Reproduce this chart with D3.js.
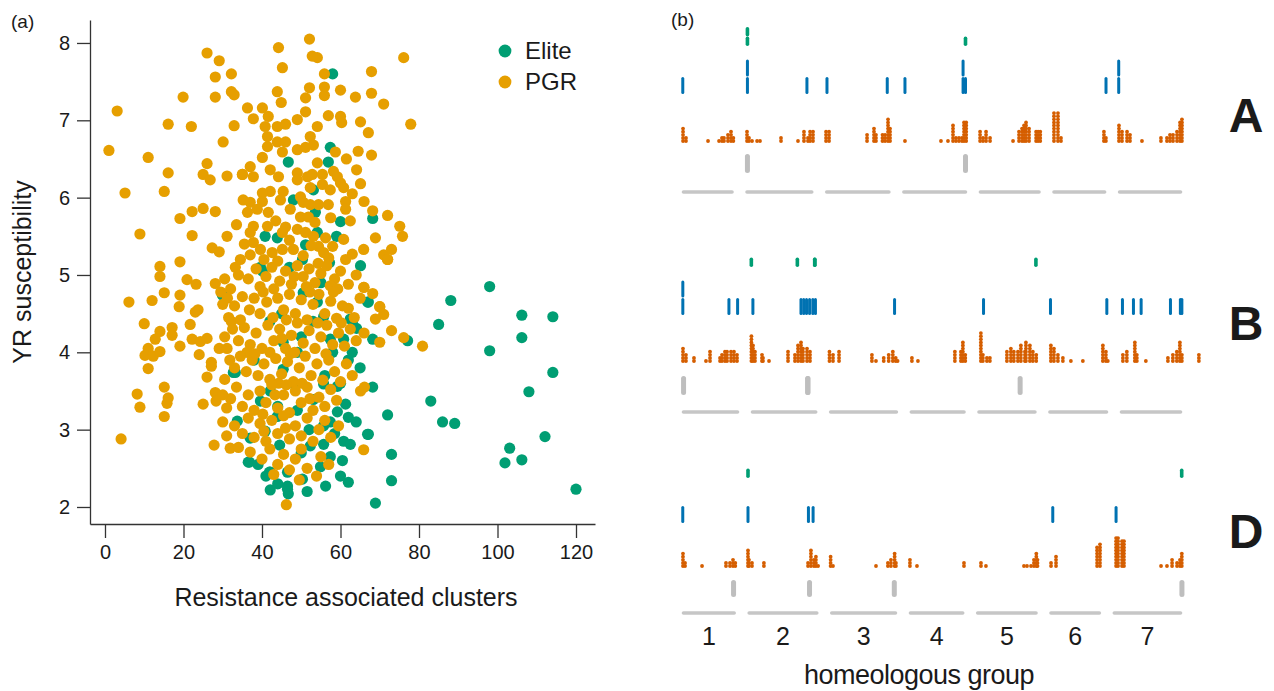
<!DOCTYPE html>
<html>
<head>
<meta charset="utf-8">
<script src="https://cdn.jsdelivr.net/npm/d3@7"></script>
<style>
  body { margin: 0; background: #fff; }
  text { font-family: "Liberation Sans", Arial, Helvetica, sans-serif; fill: #1a1a1a; }
</style>
</head>
<body>
<div class="chart"></div>
<script>
// ---------- panel (a) data: [resistance clusters, YR susceptibility] ----------
const elitePoints = [
  [98,4.85],[88.1,4.67],[106.2,4.48],[114.1,4.46],[85,4.36],[106.2,4.19],[98,4.02],[114.1,3.74],
  [108,3.49],[83,3.37],[72,3.19],[86,3.1],[89.1,3.08],[112.1,2.91],[67.1,2.94],[103.1,2.76],
  [73,2.68],[101.9,2.57],[106.2,2.61],[73,2.34],[120,2.23],[68.9,2.05],[68.2,3.55],[67.1,4.65],
  [65.1,5.12],[68.2,4.17],[77.1,4.15],[68.2,5.73],[58,7.6],[57.4,6.65],[56.9,6.46],[46.7,6.46],
  [53.1,6.1],[48,5.97],[53.6,5.81],[60,5.69],[40.8,5.5],[43.9,5.48],[54.1,5.55],[59,5.5],
  [51.1,5.39],[57.2,5.16],[39.6,5.1],[50.3,5.2],[40.1,5.05],[29.9,4.74],[32.7,3.74],[42.1,3.5],
  [39.6,3.37],[33.7,3.11],[40.8,2.98],[37,2.89],[36.8,2.58],[42.1,2.45],[46.5,2.45],[50.3,2.36],
  [42.1,2.22],[46.5,2.23],[56.2,2.27],[60,2.4],[60.8,2.85],[55.7,2.81],[53.1,3.39],[59.2,3.56],
  [57.4,4.17],[60.8,4.17],[55.7,4.46],[62.5,4.43],[54.1,4.65],[49,4],[45.4,3.78],[43.9,3.17],
  [55.7,3.05],[66.9,4.65],[63.1,4.41],[64.1,4.31],[50.5,4.77],[45.4,4.13],[33.2,3.74],[55.7,3.59],
  [61.3,3.33],[62,3.16],[59.2,3.23],[57.4,3.1],[36.5,2.58],[41.9,2.45],[54.9,2.52],[62,2.32],
  [46.7,2.17],[46.5,2.27],[57.4,2.65],[66.9,2.94],[62.5,2.81],[52.3,2.79],[45,4.5],[50,4.2],
  [48,3.6],[52,3],[44,3.3],[55,4.9],[47,5.1],[42,4.4],[53,4.4],[58,4],[60,3.6],[38,3.9],
  [50,2.7],[56,3.7],[63,4],[64,3.1],[65,3.8],[62,3.9],[60.5,2.6],[58.5,2.95],[49,3.25],
  [44.5,2.8],[39,2.55],[41,2.4],[51.5,2.2],[44,2.3]
];

const pgrPoints = [
  [1,6.61],[3.1,7.12],[5.1,6.06],[6.1,4.65],[4.1,2.88],[8.9,5.53],[11,6.52],[8.2,3.46],[8.9,3.29],
  [10,4.37],[11,4.05],[10.2,3.96],[12.3,3.95],[14,4.01],[11,3.79],[12,4.67],[14,4.27],[12.8,4.17],
  [14,5.11],[14,4.98],[15.1,4.77],[15.1,6.08],[16.1,6.32],[16.1,6.95],[15.1,3.55],[16.1,3.41],
  [15.8,3.34],[15.1,3.17],[17.1,4.32],[17.1,4.22],[19.1,4.74],[18.9,4.59],[19.1,4.08],[19.1,5.73],
  [19.1,5.17],[19.9,7.3],[20.9,4.94],[22,6.92],[22.2,5.82],[22.2,5.51],[22.2,4.17],[23.2,4.88],
  [23.7,4.55],[23,4.52],[24.3,4.14],[24,3.97],[26,4.18],[25,3.33],[25,6.3],[25,5.86],[26,6.44],
  [26.8,6.23],[26,7.87],[27.1,3.87],[27.1,3.82],[26,3.68],[27.3,5.35],[28.1,5.82],[28.1,7.56],
  [28.1,7.3],[29.1,7.77],[29.1,5.3],[29.1,4.05],[28.1,4.89],[28.1,3.48],[28.3,3.37],[27.8,2.8],
  [30.1,6.72],[31.1,6.28],[31.1,5.5],[31.1,4.05],[31.9,2.76],[32.2,7.6],[32.2,7.37],[32.9,7.33],
  [32.9,6.93],[32.2,4.4],[34,2.77],[35,6.3],[36.3,7.16],[37,2.71],[37.8,7.02],[37,6.4],[37.8,6.27],
  [21.7,4.36],[29.5,4.78],[31.2,4.7],
  [52.1,8.05],[44.2,7.94],[54.1,7.81],[52.8,7.83],[76.1,7.81],[45.2,7.68],[55.9,7.6],[67.9,7.63],
  [43.9,7.37],[52.1,7.42],[55.9,7.43],[55.9,7.32],[60,7.39],[63.8,7.3],[67.9,7.35],[71,7.21],
  [77.9,6.95],[40.1,7.16],[44.9,7.23],[51.1,7.29],[56.9,7.06],[60,7.05],[60.3,6.97],[65.1,6.98],
  [67.1,6.84],[67.9,6.55],[64.1,6.36],[65.1,6.18],[68.2,5.83],[72,5.77],[75.1,5.63],[75.8,5.5],
  [68.9,5.48],[65.9,5.33],[71,5.26],[73,5.33],
  [41.6,7.05],[40.8,6.92],[43.9,6.92],[46,6.95],[49,7.01],[51.1,7.11],[54.1,6.92],[41.4,6.79],
  [43.9,6.72],[46,6.72],[52.3,6.79],[41.4,6.66],[45.2,6.59],[49,6.62],[51.1,6.65],[53.1,6.68],
  [58.7,6.59],[40.1,6.52],[35,6.3],[42.1,6.36],[44.2,6.27],[49,6.32],[49,6.23],[51.6,6.27],
  [54.1,6.45],[52.8,6.3],[55.4,6.3],[58.2,6.34],[59.2,6.27],[55.4,6.17],[57.4,6.1],[60,6.19],
  [60.8,6.13],[52.3,6.13],[45.4,6.08],[42.1,6.08],[40.1,6.06],[35.2,5.97],[37,5.94],[40.1,5.95],
  [44.7,5.97],[49.8,6.01],[50.5,5.94],[52.3,5.91],[54.4,5.91],[56.9,5.91],[61.3,5.95],[61.3,5.85],
  [36.3,5.81],[38.8,5.85],[41.6,5.81],[47.2,5.85],[49.8,5.75],[51.8,5.75],[37.8,5.63],[41.4,5.63],
  [43.5,5.7],[46,5.62],[53.5,5.68],[57.5,5.74],[33.5,5.65],
  [37,5.55],[45.2,5.55],[49,5.59],[51.1,5.55],[53.1,5.5],[56.2,5.48],[60.8,5.46],[37.8,5.42],
  [39.6,5.33],[42.6,5.29],[45.2,5.33],[48,5.33],[54.4,5.37],[55.7,5.29],[58,5.37],[61.3,5.2],
  [37,5.26],[33.2,5.1],[35.5,5.4],[47,5.45],[50.5,5.25],[52.5,5.38],[44,5.18],[40.5,5.2],
  [57,5.22],[63,5.27],[34.5,5.2],
  [34,5],[36.5,4.95],[38.5,5.08],[41,4.98],[42.5,5.1],[44.5,4.92],[46,5.05],[47.5,4.88],[49,5.12],
  [50.5,4.98],[52,5.08],[53.5,4.9],[55,5.02],[56.5,5.12],[58.5,4.95],[60,5.05],[62,4.88],[64,5],
  [66,4.84],[68.2,4.76],[72,5.2],[30.5,4.95],[32,4.82],[39.5,4.85],[43,4.82],[48.2,4.98],
  [51.3,4.85],[54.3,5.15],[57.4,4.86],[59.3,4.82],
  [33,4.6],[35,4.72],[36.8,4.55],[38,4.7],[39.5,4.5],[41.2,4.65],[42.8,4.45],[44,4.7],[45.5,4.55],
  [47,4.75],[48.5,4.5],[50,4.68],[51.5,4.42],[53,4.62],[54.5,4.75],[56,4.5],[57.5,4.66],[59,4.44],
  [60.5,4.6],[62,4.57],[63.5,4.45],[65,4.7],[70,4.59],[71,4.49],[68.9,4.43],[30,4.62],[31.5,4.45],
  [34.5,4.42],[46.2,4.42],[52.2,4.78],[58.2,4.78],[40.3,4.78],
  [32.5,4.3],[34,4.15],[35.5,4.32],[37,4.1],[38.5,4.25],[40,4.05],[41.5,4.35],[43,4.15],[44.5,4.3],
  [46,4.05],[47.5,4.22],[49,4.38],[50.5,4.12],[52,4.28],[53.5,4.05],[55,4.2],[56.5,4.35],[58,4.1],
  [59.5,4.25],[61,4.08],[62.5,4.3],[64,4.15],[66,4.25],[73,4.28],[76.1,4.19],[80.9,4.08],[70,4.13],
  [30.5,4.2],[36.2,4],[42,4],[48.3,4],[54.2,4.38],[60.2,4.38],[45,4.18],
  [33,3.8],[34.5,3.95],[36,3.75],[37.5,3.9],[39,3.7],[40.5,3.85],[42,3.65],[43.5,3.92],[45,3.72],
  [46.5,3.88],[48,3.62],[49.5,3.8],[51,3.95],[52.5,3.7],[54,3.85],[55.5,3.64],[57,3.9],[58.5,3.75],
  [60,3.62],[61.5,3.85],[63,3.7],[30.5,3.65],[31.8,3.9],[38.2,3.98],[44.2,3.6],[50.2,3.6],
  [47.2,3.98],[56.3,3.98],
  [32,3.4],[33.5,3.55],[35,3.3],[36.5,3.45],[38,3.25],[39.5,3.5],[41,3.35],[42.5,3.58],[44,3.28],
  [45.5,3.45],[47,3.22],[48.5,3.5],[50,3.35],[51.5,3.55],[53,3.25],[54.5,3.42],[56,3.3],[57.5,3.52],
  [59,3.38],[65.1,3.5],[66.1,3.55],[30,3.45],[31,3.28],[40.2,3.2],[46.2,3.58],[52.2,3.4],[43.3,3.45],
  [33,3.05],[35,2.95],[36.5,3.15],[38,2.9],[39.5,3.08],[41,2.85],[42.5,3.12],[44,2.95],[45.5,3.18],
  [47,2.88],[48.5,3.05],[50,2.92],[51.5,3.15],[53,2.85],[54.5,3],[56,3.12],[57.5,2.9],[59.5,3.05],
  [30,3.1],[31,2.92],[46,3.02],[40.5,2.98],
  [40,2.62],[42,2.75],[44,2.55],[45.5,2.68],[47,2.48],[48.5,2.62],[50,2.75],[51.5,2.5],[53.9,2.4],
  [55,2.65],[57,2.55],[65.9,2.74],[46.2,2.03],[49.5,2.35],[43,2.42],
  [61.5,6.5],[63,6.05],[62.5,5.7],[66,5.95],[64.5,6.6],[70,4.59],[72,5.2],[65.9,4.84]
];

const xTicksA = [0, 20, 40, 60, 80, 100, 120];
const yTicksA = [2, 3, 4, 5, 6, 7, 8];
const legendLabels = ["Elite", "PGR"];

// ---------- panel (b) data ----------
const groups = ["1", "2", "3", "4", "5", "6", "7"];
const genomes = ["A", "B", "D"];
// chromosome lengths (Mb)
const lenA = [594.1, 780.8, 750.8, 744.6, 709.8, 618.1, 736.7];
const lenB = [689.9, 801.3, 830.8, 673.6, 713.1, 721.0, 750.6];
const lenD = [495.5, 651.9, 615.6, 509.9, 566.1, 473.6, 638.7];

// [group index, position Mb, count]
const orangeA = [
  [0,12,5],[0,46,2],[0,300,1],[0,427,1],[0,461,2],[0,484,2],[0,530,3],[0,565,4],[0,592,2],
  [1,17,4],[1,40,2],[1,75,1],[1,133,1],[1,167,1],[1,409,2],[1,605,1],[1,674,4],[1,720,2],[1,744,4],[1,778,4],
  [2,9,4],[2,44,4],[2,482,3],[2,562,5],[2,585,3],[2,660,3],[2,690,3],[2,724,8],[2,747,5],
  [3,30,1],[3,445,1],[3,526,1],[3,584,6],[3,618,2],[3,653,2],[3,688,2],[3,711,7],[3,736,7],
  [4,13,4],[4,47,2],[4,82,4],[4,128,2],[4,393,1],[4,462,4],[4,497,5],[4,520,6],[4,543,7],[4,578,5],
  [4,659,4],[4,682,4],[4,707,4],
  [5,17,10],[5,63,10],[5,98,2],[5,593,4],[5,616,2],
  [6,10,6],[6,45,4],[6,103,4],[6,137,3],[6,275,1],[6,494,2],[6,563,2],[6,598,3],[6,633,3],[6,679,4],
  [6,714,7],[6,736,8]
];
const orangeB = [
  [0,12,5],[0,48,3],[0,145,2],[0,290,1],[0,339,4],[0,460,2],[0,484,3],[0,520,4],[0,545,4],[0,593,4],
  [0,629,4],[0,666,3],
  [1,5,9],[1,24,6],[1,48,4],[1,133,3],[1,145,2],[1,218,1],[1,448,4],[1,532,3],[1,569,6],[1,605,7],
  [1,629,5],[1,678,5],[1,714,4],
  [2,3,4],[2,46,3],[2,119,4],[2,517,3],[2,566,1],[2,660,2],[2,720,3],[2,770,4],[2,805,2],[2,828,1],
  [3,25,2],[3,98,1],[3,545,4],[3,618,4],[3,642,7],[3,671,3],
  [4,41,10],[4,65,3],[4,114,2],[4,150,2],[4,356,4],[4,404,5],[4,440,4],[4,489,4],[4,525,6],[4,574,4],
  [4,586,7],[4,634,6],[4,670,4],[4,711,3],
  [5,30,6],[5,67,5],[5,115,3],[5,175,2],[5,272,1],[5,417,1],[5,659,6],[5,696,4],[5,719,1],
  [6,35,3],[6,83,4],[6,180,7],[6,204,3],[6,313,1],[6,580,2],[6,640,3],[6,688,4],[6,725,7],[6,749,3],
  [6,955,3]
];
const orangeD = [
  [0,9,5],[0,28,2],[0,185,1],[0,406,2],[0,443,2],[0,471,3],[0,492,2],
  [1,3,6],[1,12,3],[1,40,2],[1,150,2],[1,557,2],[1,584,6],[1,612,3],[1,630,4],[1,650,1],
  [2,3,4],[2,25,1],[2,422,1],[2,532,2],[2,560,3],[2,594,5],[2,606,2],
  [3,9,3],[3,74,1],[3,508,2],
  [4,44,2],[4,90,1],[4,441,1],[4,469,1],[4,506,1],[4,533,3],[4,555,5],[4,566,3],
  [5,14,2],[5,60,4],[5,439,7],[5,466,8],
  [6,30,10],[6,48,10],[6,85,9],[6,103,9],[6,445,1],[6,500,1],[6,547,3],[6,593,2],[6,620,3],[6,637,5]
];
const blueA = [[0,9,1],[1,22,2],[1,708,1],[2,20,1],[2,715,1],[3,30,1],[3,700,2],[3,728,1],[5,617,1],[6,7,2]];
const blueB = [
  [0,10,2],[0,568,1],[0,673,1],[1,23,1],[1,605,1],[1,638,1],[1,672,1],[1,709,1],[1,748,1],[1,780,1],
  [2,791,1],[4,73,1],[5,25,1],[5,707,1],[6,30,1],[6,163,1],[6,256,1],[6,611,1],[6,731,1],[6,749,1]
];
const blueD = [[0,7,1],[1,3,1],[1,561,1],[1,604,1],[5,30,1],[6,30,1]];
const greenA = [[1,22,2],[3,728,1]];
const greenB = [[1,4,1],[1,561,1],[1,771,1],[1,773,1],[4,707,1]];
const greenD = [[1,3,1],[6,636,1]];
const grayA = [[1,22,1],[3,728,1]];
const grayB = [[0,19,1],[1,685,1],[1,690,1],[4,516,1]];
const grayD = [[0,476,1],[1,571,1],[2,591,1],[6,638,1]];

(function () {
  const svg = d3.select(".chart").append("svg")
    .attr("width", 1274).attr("height", 691);

  // ================= panel (a) =================
  const orange = "#E69F00", green = "#009E73";
  const x = d3.scaleLinear().domain([-3.82, 124.84]).range([90, 595]);
  const y = d3.scaleLinear().domain([1.78, 8.297]).range([524, 20]);

  svg.append("text").attr("x", 11).attr("y", 28).attr("font-size", 19).text("(a)");

  const pts = svg.append("g");
  pts.selectAll("circle.elite").data(elitePoints).enter().append("circle")
    .attr("class", "elite")
    .attr("cx", d => x(d[0])).attr("cy", d => y(d[1]))
    .attr("r", 5.6).attr("fill", green);
  pts.selectAll("circle.pgr").data(pgrPoints).enter().append("circle")
    .attr("class", "pgr")
    .attr("cx", d => x(d[0])).attr("cy", d => y(d[1]))
    .attr("r", 5.6).attr("fill", orange);

  const xAxis = svg.append("g")
    .attr("transform", "translate(0,524)")
    .call(d3.axisBottom(x).tickValues(xTicksA).tickSize(14).tickSizeOuter(0).tickPadding(7)
      .tickFormat(d3.format("d")));
  const yAxis = svg.append("g")
    .attr("transform", "translate(90,0)")
    .call(d3.axisLeft(y).tickValues(yTicksA).tickSize(13).tickSizeOuter(0).tickPadding(7)
      .tickFormat(d3.format("d")));
  [xAxis, yAxis].forEach(a => {
    a.select(".domain").attr("stroke", "#333").attr("stroke-width", 1.3);
    a.selectAll(".tick line").attr("stroke", "#333").attr("stroke-width", 1.3);
    a.selectAll(".tick text").attr("font-size", 20).attr("fill", "#1a1a1a")
      .attr("font-family", "'Liberation Sans', Arial, sans-serif");
  });

  svg.append("text").attr("x", 346).attr("y", 606).attr("text-anchor", "middle")
    .attr("font-size", 25).text("Resistance associated clusters");
  svg.append("text").attr("transform", "translate(31,272) rotate(-90)")
    .attr("text-anchor", "middle").attr("font-size", 25).text("YR susceptibility");

  const legend = svg.append("g");
  legend.selectAll("circle").data(legendLabels).enter().append("circle")
    .attr("cx", 505).attr("cy", (d, i) => 51 + i * 31)
    .attr("r", 6.4).attr("fill", (d, i) => i === 0 ? green : orange);
  legend.selectAll("text").data(legendLabels).enter().append("text")
    .attr("x", 525).attr("y", (d, i) => 59 + i * 31)
    .attr("font-size", 24).text(d => d);

  // ================= panel (b) =================
  svg.append("text").attr("x", 671).attr("y", 26).attr("font-size", 19).text("(b)");

  const x0 = 682, W = 500, gap = 12;
  const rows = [
    { name: "A", len: lenA, orange: orangeA, blue: blueA, green: greenA, gray: grayA,
      gY: 46, bY: 94, oY: 141, grY: [154, 173], sY: 192, labY: 132 },
    { name: "B", len: lenB, orange: orangeB, blue: blueB, green: greenB, gray: grayB,
      gY: 267, bY: 315, oY: 361, grY: [376, 395], sY: 412, labY: 340 },
    { name: "D", len: lenD, orange: orangeD, blue: blueD, green: greenD, gray: grayD,
      gY: 478, bY: 523, oY: 566, grY: [580, 597], sY: 613, labY: 548 }
  ];

  rows.forEach(row => {
    const total = d3.sum(row.len);
    const mb = d3.scaleLinear().domain([0, total]).range([0, W - gap * 6]);
    const starts = row.len.map((l, i) => x0 + mb(d3.sum(row.len.slice(0, i))) + i * gap);
    const pos = d => starts[d[0]] + mb(d[1]);
    row.starts = starts; row.mb = mb;
    const g = svg.append("g");

    // chromosome bars
    g.selectAll("line.chr").data(row.len).enter().append("line")
      .attr("x1", (d, i) => starts[i] + 1.5).attr("x2", (d, i) => starts[i] + mb(d) - 1.5)
      .attr("y1", row.sY).attr("y2", row.sY)
      .attr("stroke", "#c6c6c6").attr("stroke-width", 3.6).attr("stroke-linecap", "round");

    // gray ticks
    g.selectAll("line.gray").data(row.gray).enter().append("line")
      .attr("x1", pos).attr("x2", pos)
      .attr("y1", row.grY[0] + 2.5).attr("y2", row.grY[1] - 2.5)
      .attr("stroke", "#bebebe").attr("stroke-width", 5).attr("stroke-linecap", "round");

    // orange stacked dots
    const dots = [];
    row.orange.forEach(d => { for (let j = 0; j < d[2]; j++) dots.push([pos(d), j]); });
    g.selectAll("circle.dot").data(dots).enter().append("circle")
      .attr("cx", d => d[0]).attr("cy", d => row.oY - d[1] * 3.1)
      .attr("r", 1.9).attr("fill", "#D55E00");

    // blue ticks (stacked levels)
    const bl = [];
    row.blue.forEach(d => { for (let j = 0; j < d[2]; j++) bl.push([pos(d), j]); });
    g.selectAll("line.blue").data(bl).enter().append("line")
      .attr("x1", d => d[0]).attr("x2", d => d[0])
      .attr("y1", d => row.bY - d[1] * 17.5 - 1.5).attr("y2", d => row.bY - (d[1] + 1) * 17.5 + 2)
      .attr("stroke", "#0072B2").attr("stroke-width", 3).attr("stroke-linecap", "round");

    // green ticks
    const gr = [];
    row.green.forEach(d => { for (let j = 0; j < d[2]; j++) gr.push([pos(d), j]); });
    g.selectAll("line.green").data(gr).enter().append("line")
      .attr("x1", d => d[0]).attr("x2", d => d[0])
      .attr("y1", d => row.gY - d[1] * 9.5 - 1.8).attr("y2", d => row.gY - (d[1] + 1) * 9.5 + 1.8)
      .attr("stroke", "#009E73").attr("stroke-width", 3.6).attr("stroke-linecap", "round");

    svg.append("text").attr("x", 1246).attr("y", row.labY).attr("text-anchor", "middle")
      .attr("font-size", 48).attr("font-weight", "bold").attr("fill", "#000").text(row.name);
  });

  // group numbers centred on D chromosomes
  const dRow = rows[2];
  svg.selectAll("text.grp").data(groups).enter().append("text")
    .attr("x", (d, i) => dRow.starts[i] + dRow.mb(lenD[i]) / 2)
    .attr("y", 645).attr("text-anchor", "middle").attr("font-size", 25).text(d => d);
  svg.append("text").attr("x", 919).attr("y", 684).attr("text-anchor", "middle")
    .attr("font-size", 27).attr("letter-spacing", -0.5).text("homeologous group");
})();
</script>
</body>
</html>
